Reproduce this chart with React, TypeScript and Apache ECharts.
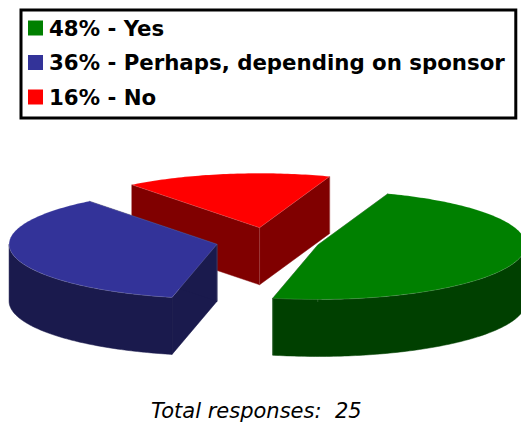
import React, { useEffect, useRef } from "react";
import * as echarts from "echarts";

// Survey answers, in clockwise order from the first slice
const answers = ["Yes", "Perhaps, depending on sponsor", "No"];
const percents = [48, 36, 16];
const topColors = ["#008000", "#333399", "#ff0000"];
const wallColors = ["#004000", "#1a1a4d", "#800000"];
const drawLayers = [3, 3, 2];
const totalResponses = 25;

// Projection of the tilted pie
const CX = 267.8;
const CY = 241.2;
const RX = 208;
const RY = 54.5;
const DEPTH = 57;
const EXPLODE = 0.25;
const START_DEG = 70.3;

const rad = (d: number) => (d * Math.PI) / 180;

function arcPoints(ox: number, oy: number, from: number, to: number) {
  const pts: number[][] = [];
  const steps = Math.max(1, Math.ceil(Math.abs(from - to)));
  for (let i = 0; i <= steps; i++) {
    const a = rad(from + ((to - from) * i) / steps);
    pts.push([ox + RX * Math.cos(a), oy - RY * Math.sin(a)]);
  }
  return pts;
}

function sliceRenderer(index: number) {
  return (_params: unknown, api: any) => {
    const value = api.value(0) as number;
    const before = percents.slice(0, index).reduce((a, b) => a + b, 0);
    const from = START_DEG - (before / 100) * 360;
    const to = from - (value / 100) * 360;
    const mid = rad((from + to) / 2);
    const ox = CX + EXPLODE * RX * Math.cos(mid);
    const oy = CY - EXPLODE * RY * Math.sin(mid);

    const down = (p: number[]) => [p[0], p[1] + DEPTH];
    const apex = [ox, oy];
    const rim = arcPoints(ox, oy, from, to);
    const first = rim[0];
    const last = rim[rim.length - 1];
    const wall = wallColors[index];
    const poly = (points: number[][], fill: string, stroke = fill) => ({
      type: "polygon",
      shape: { points },
      style: { fill, stroke, lineWidth: 0.5 },
    });
    // Thin highlight along the corners between faces
    const seam = (p: number[]) => ({
      type: "line",
      shape: { x1: p[0], y1: p[1], x2: p[0], y2: p[1] + DEPTH },
      style: { stroke: "rgba(255,255,255,0.22)", lineWidth: 0.75 },
    });

    const children: object[] = [
      poly([apex, first, down(first), down(apex)], wall),
      poly([apex, last, down(last), down(apex)], wall),
    ];

    // The outer wall is only seen along the front half of the ellipse
    const frontFrom = Math.min(from, 0);
    const frontTo = Math.max(to, -180);
    if (frontFrom > frontTo) {
      const band = arcPoints(ox, oy, frontFrom, frontTo);
      children.push(poly([...band, ...band.slice().reverse().map(down)], wall));
    }
    children.push(seam(apex), seam(last));
    children.push(poly([apex, ...rim], topColors[index], "rgba(255,255,255,0.3)"));

    return { type: "group", children };
  };
}

export default function App() {
  const ref = useRef<HTMLDivElement>(null);

  useEffect(() => {
    document.body.style.margin = "0";
    const chart = echarts.init(ref.current!, null, { renderer: "svg" });
    chart.setOption({
      animation: false,
      backgroundColor: "#ffffff",
      title: {
        text: `Total responses:  ${totalResponses}`,
        left: 151,
        top: 400,
        padding: 0,
        textStyle: {
          fontFamily: "DejaVu Sans",
          fontStyle: "italic",
          fontWeight: "normal",
          fontSize: 21,
          color: "#000000",
        },
      },
      legend: {
        orient: "vertical",
        left: 21,
        top: 10,
        z: 10,
        icon: "rect",
        itemWidth: 15,
        itemHeight: 15,
        itemGap: 10.5,
        padding: [6, 11, 9, 7],
        borderColor: "#000000",
        borderWidth: 3,
        backgroundColor: "#ffffff",
        selectedMode: false,
        textStyle: {
          fontFamily: "DejaVu Sans",
          fontWeight: "bold",
          fontSize: 21.3,
          lineHeight: 24,
          color: "#000000",
          padding: [0, 0, 0, 1],
        },
      },
      series: answers.map((answer, i) => ({
        type: "custom",
        name: `${percents[i]}% - ${answer}`,
        coordinateSystem: "none",
        z: drawLayers[i],
        silent: true,
        itemStyle: { color: topColors[i] },
        data: [[percents[i]]],
        renderItem: sliceRenderer(i),
      })),
    });
    return () => chart.dispose();
  }, []);

  return (
    <div
      ref={ref}
      style={{ position: "absolute", left: 0, top: 0, width: 521, height: 423, overflow: "hidden" }}
    />
  );
}
